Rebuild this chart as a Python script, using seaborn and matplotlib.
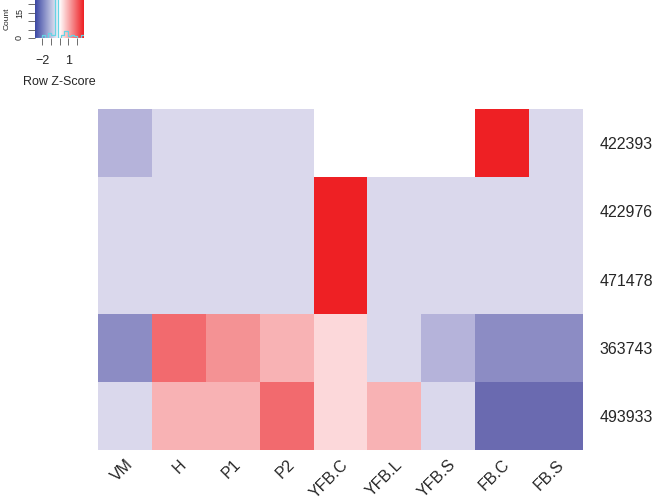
"""Heatmap of row z-scores with a small colour key (heatmap.2 style)."""

import matplotlib.pyplot as plt
import numpy as np
import pandas as pd
import seaborn as sns
from matplotlib.colors import BoundaryNorm, LinearSegmentedColormap, ListedColormap

samples = ["VM", "H", "P1", "P2", "YFB.C", "YFB.L", "YFB.S", "FB.C", "FB.S"]
genes = ["422393", "422976", "471478", "363743", "493933"]

nan = np.nan
z_422393 = [-0.8, -0.3, -0.3, -0.3, nan, nan, nan, 2.0, -0.3]
z_422976 = [-0.33, -0.33, -0.33, -0.33, 2.67, -0.33, -0.33, -0.33, -0.33]
z_471478 = [-0.33, -0.33, -0.33, -0.33, 2.67, -0.33, -0.33, -0.33, -0.33]
z_363743 = [-1.3, 1.5, 1.0, 0.6, 0.2, -0.3, -0.8, -1.3, -1.3]
z_493933 = [-0.3, 0.6, 0.6, 1.5, 0.2, 0.6, -0.3, -1.8, -1.8]

df = pd.DataFrame(
    [z_422393, z_422976, z_471478, z_363743, z_493933], index=genes, columns=samples
)

level_colors = ["#6A6AB0", "#8C8CC4", "#B5B3DA", "#DAD8EC",
                "#FCD8DA", "#F8B2B4", "#F49294", "#F26A6E", "#EE2024"]
bounds = [-2.83, -1.6, -1.1, -0.6, 0, 0.4, 0.8, 1.2, 1.8, 2.83]
cmap = ListedColormap(level_colors)
norm = BoundaryNorm(bounds, cmap.N)

sns.set_theme(style="white")
plt.rcParams["font.family"] = ["Liberation Sans", "DejaVu Sans"]

W, H = 653, 501
fig = plt.figure(figsize=(W / 100, H / 100), dpi=100)

# Heatmap
ax = fig.add_axes([98 / W, 1 - 450 / H, 485 / W, 341 / H])
sns.heatmap(df, cmap=cmap, norm=norm, cbar=False, ax=ax, linewidths=0)
ax.yaxis.tick_right()
ax.set_yticks(np.arange(len(genes)) + 0.5)
ax.set_yticklabels(genes, rotation=0, fontsize=11.5)
ax.set_xticks(np.arange(len(samples)) + 0.5)
ax.set_xticklabels(samples, rotation=45, ha="right", va="top",
                   rotation_mode="anchor", fontsize=11.5)
ax.tick_params(axis="y", length=0, pad=12)
ax.tick_params(axis="x", length=0, pad=5)
ax.set_xlabel("")
ax.set_ylabel("")

# Colour key with histogram
key = fig.add_axes([35 / W, 1 - 38 / H, 49 / W, 38 / H])
grad_cmap = LinearSegmentedColormap.from_list("key", ["#3C48A4", "#FFFFFF", "#EE2024"])
grad = np.linspace(-2.83, 2.83, 200).reshape(1, -1)
key.imshow(grad, cmap=grad_cmap, aspect="auto", extent=[-2.83, 2.83, 0, 22.4],
           vmin=-2.83, vmax=2.83)
vals = df.stack().dropna().values
sns.histplot(x=vals, bins=np.linspace(-2.83, 2.83, 16), element="step", fill=False,
             color="#66D4E4", linewidth=0.9, ax=key)
key.set_xlim(-2.83, 2.83)
key.set_ylim(0, 22.4)
key.set_xticks([-2, -1, 0, 1, 2])
key.set_xticklabels(["\u22122", "", "", "1", ""], fontsize=9)
key.set_yticks([0, 5, 10, 15, 20])
key.set_yticklabels(["0", "", "", "15", ""], fontsize=6.5, rotation=90, va="center")
key.tick_params(axis="both", length=5, width=0.6, color="#555555",
                left=True, bottom=True)
key.tick_params(axis="x", pad=7)
key.tick_params(axis="y", pad=3)
key.set_xlabel("Row Z-Score", fontsize=9, labelpad=7)
key.set_ylabel("Count", fontsize=6, labelpad=3)
for s in key.spines.values():
    s.set_visible(False)

fig.savefig("out.png", dpi=100)
plt.close(fig)
